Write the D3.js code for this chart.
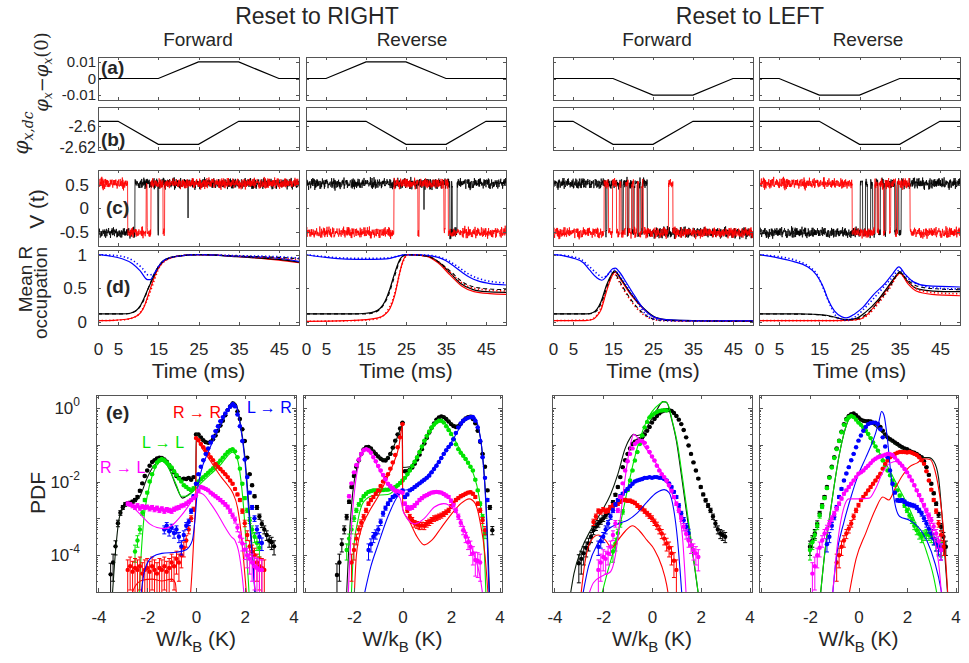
<!DOCTYPE html>
<html><head><meta charset="utf-8">
<script src="https://cdn.jsdelivr.net/npm/d3@7"></script>
<style>body{margin:0;background:#fff}svg{display:block}</style>
</head><body><svg id="chart" width="969" height="663"></svg>
<script>
// ---------------- DATA ----------------
const groupTitles = ["Reset to RIGHT", "Reset to LEFT"];
const columnTitles = ["Forward", "Reverse", "Forward", "Reverse"];
const timeTicks = [0, 5, 15, 25, 35, 45];
const wTicks = [-4, -2, 0, 2, 4];
const pdfTickLabels = [[1, "0"], [1e-2, "-2"], [1e-4, "-4"]];

// (a) phi_x - phi_x(0) protocol
const protoTimeA = [[0,15,25,35,45,50],[0,5,15,25,35,50],[0,15,25,35,45,50],[0,5,15,25,35,50]];
const protoPhiA = [[0,0,0.01,0.01,0,0],[0,0,0.01,0.01,0,0],[0,0,-0.01,-0.01,0,0],[0,0,-0.01,-0.01,0,0]];
// (b) phi_x,dc protocol
const protoTimeB = [[0,5,15,25,35,50],[0,15,25,35,45,50],[0,5,15,25,35,50],[0,15,25,35,45,50]];
const protoPhiB = [-2.595,-2.595,-2.6175,-2.6175,-2.595,-2.595];

// (c) voltage traces: initial state and switching times (ms)
const blackInit = ["L","H","H","L"];
const blackSwitch = [[9.2,14.9,15.1],[36.0,36.4,36.6,37.8],
  [13.2,13.5,17.3,17.6,18.6,19.0,19.8,20.3,21.2,21.5,22.0,22.4,23.6],
  [25.2,25.8,26.5,27.0,27.8,28.3,28.9,29.6,30.2,31.2,31.6,33.8,34.3,34.8,35.4]];
const blackSpikes = [[[22.4,-0.2]],[[29.5,0.0]],[],[]];
const redInit = ["H","L","L","H"];
const redSwitch = [[7.4,12.0,12.25,13.2,16.2,16.6],[22.0,28.0,28.3,34.5,34.8,35.6],
  [12.8,13.9,14.9,15.9,16.6,17.0,18.2,18.8,19.7,20.2,21.0,21.4,22.2,22.6,28.9,30.0],
  [23.2,28.8,29.4,29.8,31.0,31.4,32.5,32.8,34.0,34.5,37.6]];
const levelHigh = 0.53, levelLow = -0.52;
const vNoise = [0.12,-0.45,0.33,0.71,-0.18,-0.62,0.05,0.48,-0.27,0.9,-0.08,-0.55,0.37,-0.73,0.21,0.6,-0.34,0.02,-0.88,0.44,
  0.15,-0.21,0.67,-0.5,0.28,-0.12,0.81,-0.39,0.09,-0.66,0.53,-0.02,0.36,-0.95,0.24,0.58,-0.31,-0.07,0.75,-0.44,
  0.18,-0.59,0.41,0.03,-0.24,0.92,-0.71,0.14,-0.36,0.49,-0.15,0.64,-0.83,0.27,0.07,-0.48,0.56,-0.19,0.31,-0.6,
  0.85,-0.26,0.11,-0.4,0.69,-0.05,-0.77,0.38,0.2,-0.53,0.46,-0.11,0.62,-0.3,0.01,-0.68,0.52,0.25,-0.16,0.79,
  -0.42,0.08,-0.57,0.34,-0.23,0.97,-0.35,0.13,-0.64,0.43,0.06,-0.47,0.72,-0.09,0.29,-0.81,0.17,0.55,-0.28,0.4,-0.13];

// (d) mean R occupation [t, value]
const occBlue = [
 [[0,1.0],[3,0.98],[6,0.94],[8.5,0.87],[10.5,0.76],[12.3,0.63],[13,0.63],[14,0.72],[15,0.82],[16.5,0.92],[19,0.97],[25,1.0],[35,0.975],[42,0.96],[46,0.94],[50,0.9]],
 [[0,1.0],[5,0.96],[10,0.935],[15,0.93],[19,0.935],[21,0.945],[23,0.98],[25,1.0],[30,0.99],[33,0.96],[35,0.91],[37,0.83],[39,0.74],[41,0.66],[43,0.61],[46,0.57],[50,0.55]],
 [[0,1.0],[3,0.98],[5,0.95],[7.6,0.88],[9.2,0.77],[10.9,0.66],[12.2,0.62],[13.4,0.68],[14.9,0.79],[15.6,0.8],[16.5,0.75],[18.4,0.58],[20.5,0.38],[22.6,0.2],[25,0.08],[28,0.035],[35,0.02],[50,0.02]],
 [[0,1.0],[5,0.95],[8.5,0.9],[11.8,0.83],[14.3,0.7],[15.9,0.53],[17.2,0.33],[18.8,0.16],[20.5,0.08],[21.7,0.06],[23.8,0.12],[25.9,0.22],[28.4,0.4],[31.3,0.57],[33.3,0.72],[34.8,0.82],[36.2,0.72],[38.3,0.6],[41.6,0.54],[50,0.52]]];
const occBlueDot = [
 [[0,1.0],[4,0.99],[7,0.96],[9,0.9],[11,0.8],[12.5,0.7],[14,0.72],[15,0.82],[17,0.93],[20,0.98],[25,1.0],[35,0.985],[45,0.97],[50,0.95]],
 [[0,1.0],[5,0.97],[10,0.95],[15,0.945],[20,0.95],[23,0.98],[25,1.0],[30,0.995],[33,0.97],[35,0.93],[38,0.82],[41,0.7],[44,0.63],[50,0.58]],
 [[0,1.0],[4,0.98],[7,0.93],[9,0.83],[11,0.72],[12.5,0.66],[14,0.72],[15.2,0.77],[17,0.66],[19,0.48],[21,0.3],[23,0.13],[25,0.05],[30,0.015],[50,0.01]],
 [[0,1.0],[5,0.97],[9,0.92],[12,0.84],[14.5,0.7],[16,0.5],[17.5,0.28],[19,0.1],[20.5,0.04],[22,0.03],[24,0.08],[27,0.25],[30,0.45],[33,0.65],[35,0.77],[37,0.65],[40,0.55],[45,0.5],[50,0.49]]];
const occBlack = [
 [[0,0.12],[6,0.12],[8,0.13],[9.5,0.17],[10.5,0.24],[11.5,0.36],[12.5,0.5],[13.5,0.63],[14.5,0.76],[16,0.9],[18,0.96],[20,0.98],[25,1.0],[35,0.97],[45,0.93],[50,0.89]],
 [[0,0.12],[12,0.12],[15,0.13],[17,0.15],[18.5,0.2],[19.7,0.3],[20.9,0.48],[22.2,0.73],[23.4,0.92],[25,1.0],[29,0.99],[31,0.97],[33.4,0.88],[36,0.73],[38.5,0.58],[41.8,0.48],[45,0.45],[50,0.44]],
 [[0,0.12],[8.5,0.12],[10,0.14],[11,0.19],[12,0.3],[13.4,0.55],[14.6,0.7],[15.4,0.76],[17,0.64],[19.4,0.43],[22.7,0.2],[25.6,0.07],[29,0.03],[35,0.02],[50,0.015]],
 [[0,0.12],[10,0.12],[13.5,0.115],[16.8,0.1],[19,0.07],[21.7,0.035],[24,0.05],[26.6,0.15],[29.5,0.32],[32,0.52],[34.5,0.72],[35,0.75],[36.6,0.63],[39.1,0.5],[43.3,0.46],[50,0.45]]];
const occBlackDash = [
 [[0,0.12],[7,0.12],[9,0.15],[10.5,0.23],[11.5,0.34],[12.5,0.5],[13.5,0.65],[15,0.82],[17,0.93],[20,0.98],[25,1.0],[35,0.98],[45,0.96],[50,0.94]],
 [[0,0.12],[15,0.12],[17.5,0.15],[19,0.22],[20.5,0.38],[22,0.65],[23.4,0.9],[25,1.0],[30,0.98],[33,0.9],[36,0.76],[39,0.6],[42,0.52],[46,0.49],[50,0.48]],
 [[0,0.12],[9,0.12],[11,0.17],[12.5,0.35],[13.8,0.58],[15.2,0.74],[16.5,0.62],[18.5,0.42],[21,0.22],[24,0.07],[27,0.025],[35,0.015],[50,0.01]],
 [[0,0.12],[12,0.115],[16,0.1],[19,0.065],[22,0.03],[24,0.04],[27,0.13],[30,0.32],[32.5,0.52],[35,0.73],[37,0.62],[40,0.52],[45,0.49],[50,0.48]]];
const occRed = [
 [[0,0.02],[4,0.025],[7,0.04],[9,0.07],[10.5,0.13],[11.5,0.23],[12.5,0.4],[13.5,0.58],[14.5,0.74],[16,0.88],[18,0.95],[20,0.98],[25,1.0],[35,0.97],[45,0.92],[50,0.88]],
 [[0,0.01],[10,0.02],[15,0.035],[18,0.06],[19.5,0.1],[21,0.2],[22.2,0.4],[23.3,0.7],[24.2,0.9],[25.5,1.0],[30,0.98],[33,0.88],[36,0.7],[39,0.53],[42,0.45],[46,0.42],[50,0.41]],
 [[0,0.02],[8,0.02],[10,0.04],[11,0.09],[12,0.18],[13.2,0.42],[14.5,0.65],[15.5,0.74],[17,0.62],[19.4,0.41],[22.7,0.19],[25.6,0.06],[29,0.025],[35,0.015],[50,0.01]],
 [[0,0.02],[15,0.02],[22,0.025],[25,0.04],[27.1,0.12],[29.5,0.3],[32,0.5],[34.5,0.7],[35,0.73],[37,0.57],[39.1,0.46],[43,0.41],[50,0.39]]];
const occRedDot = [
 [[0,0.02],[6,0.03],[9,0.07],[10.5,0.14],[12,0.3],[13,0.45],[14,0.62],[15,0.78],[17,0.92],[20,0.98],[25,1.0],[35,0.98],[45,0.95],[50,0.93]],
 [[0,0.01],[12,0.02],[17,0.04],[19,0.08],[20.5,0.18],[21.8,0.35],[23,0.62],[24,0.85],[25.5,1.0],[30,0.98],[33,0.9],[36,0.74],[39,0.58],[42,0.5],[50,0.46]],
 [[0,0.02],[9,0.03],[11,0.1],[12.5,0.3],[13.8,0.55],[15.2,0.72],[16.5,0.6],[18.5,0.4],[21,0.2],[24,0.06],[27,0.02],[50,0.01]],
 [[0,0.02],[20,0.02],[24,0.03],[27,0.1],[30,0.3],[32.5,0.5],[35,0.72],[37,0.6],[40,0.47],[45,0.43],[50,0.42]]];

// (e) work PDFs: histogram bins of 0.1 K starting at W0, values as log10(PDF)
const binWidth = 0.1;
const kW0 = [-3.5, -2.7, -3.0, -2.0];
const kLog = [
 [-4.52,-4.2,-3.76,-3.13,-2.85,-2.7,-2.62,-2.6,-2.58,-2.55,-2.5,-2.42,-2.25,-2.05,-1.85,-1.7,-1.57,-1.47,-1.42,-1.37,-1.35,-1.36,-1.4,-1.46,-1.55,-1.65,-1.75,-1.85,-1.9,-1.95,-1.92,-1.93,-1.9,-1.95,-1.88,
  -0.72,-0.72,-0.8,-0.88,-0.93,-0.95,-0.92,-0.85,-0.75,-0.62,-0.48,-0.35,-0.2,-0.06,0.04,0.09,0.06,-0.1,-0.3,-0.58,-0.9,-1.35,-1.8,-2.1,-2.4,-2.7,-2.95,-3.15,-3.3,-3.45,-3.6,-3.65,-3.76],
 [-4.54,-4.2,-3.7,-3.3,-2.96,-2.55,-2.15,-1.85,-1.6,-1.42,-1.25,-1.13,-1.07,-1.06,-1.1,-1.18,-1.25,-1.32,-1.38,-1.42,-1.43,-1.36,-1.25,-1.08,-0.89,-0.72,-0.56,-0.4,
  -1.72,-1.72,-1.68,-1.62,-1.52,-1.4,-1.27,-1.12,-0.97,-0.82,-0.67,-0.54,-0.42,-0.32,-0.26,-0.23,-0.25,-0.3,-0.37,-0.44,-0.49,-0.52,-0.5,-0.43,-0.35,-0.29,-0.25,-0.24,-0.3,-0.42,-0.62,-0.92,-1.25,-1.6,-2.24,-2.7,-3.32],
 [-4.22,-4.1,-3.95,-3.8,-3.68,-3.5,-3.32,-3.22,-3.14,-3.07,-3.0,-2.92,-2.83,-2.7,-2.56,-2.36,-2.15,-1.88,-1.61,-1.42,-1.25,-1.1,-0.98,-0.92,-0.89,-0.85,-0.8,-0.72,-0.62,-0.52,
  -0.4,-0.3,-0.22,-0.15,-0.1,-0.07,-0.06,-0.06,-0.08,-0.14,-0.22,-0.32,-0.44,-0.6,-0.8,-1.02,-1.25,-1.48,-1.7,-1.92,-2.15,-2.35,-2.51,-2.65,-2.78,-2.95,-3.14,-3.3,-3.41,-3.45,-3.5],
 [-3.77,-3.6,-3.41,-3.15,-2.87,-2.65,-2.42,-2.15,-1.88,-1.6,-1.34,-1.1,-0.89,-0.65,-0.44,-0.3,-0.22,-0.17,-0.15,-0.2,
  -0.26,-0.32,-0.35,-0.36,-0.36,-0.37,-0.4,-0.42,-0.44,-0.52,-0.62,-0.72,-0.8,-0.85,-0.89,-0.94,-0.98,-1.03,-1.07,-1.1,-1.12,-1.16,-1.2,-1.22,-1.25,-1.3,-1.34,-1.45,-1.61,-1.82,-2.06,-2.32,-2.6,-2.9,-3.23,-3.5,-3.77]];
const rW0 = [-2.8, -2.1, -2.4, -0.9];
const rLog = [
 [-4.4,-4.3,-4.45,-4.35,-4.4,-4.3,-4.5,-4.4,-4.35,-4.45,-4.3,-4.4,-4.5,-4.35,-4.4,-4.3,-4.45,-4.35,-4.2,-4.3,-4.1,-4.2,-4.0,-3.8,-3.6,-3.3,-3.0,-2.75,
  -0.82,-0.88,-0.98,-1.07,-1.15,-1.25,-1.34,-1.42,-1.52,-1.6,-1.66,-1.73,-1.8,-1.88,-1.97,-2.06,-2.2,-2.35,-2.5,-2.8,-3.13,-3.45,-3.76,-3.9,-4.0,-4.2,-4.3,-4.35,-4.4],
 [-4.2,-3.86,-3.55,-3.3,-3.12,-2.96,-2.78,-2.6,-2.5,-2.42,-2.33,-2.24,-2.12,-2.0,-1.9,-1.8,-1.65,-1.48,-1.28,-1.07,-0.8,-0.44,
  -2.42,-2.78,-2.96,-3.05,-3.14,-3.17,-3.2,-3.19,-3.2,-3.14,-3.1,-3.05,-3.0,-2.98,-2.95,-2.92,-2.88,-2.83,-2.78,-2.68,-2.58,-2.5,-2.45,-2.4,-2.37,-2.33,-2.3,-2.29,-2.33,-2.42,-2.6,-2.78,-3.05,-3.32],
 [-3.1,-2.95,-2.8,-2.82,-2.76,-2.8,-2.78,-2.7,-2.65,-2.62,-2.6,-2.55,-2.5,-2.5,-2.52,-2.52,-2.55,-2.58,-2.65,-2.7,-2.74,-2.8,-2.87,-2.93,
  -3.0,-3.1,-3.19,-3.3,-3.41,-3.55,-3.68,-3.8,-3.95,-4.15,-4.4],
 [-4.2,-4.0,-3.77,-3.6,-3.41,-3.28,-3.14,-2.95,-2.78,-2.64,-2.5,-2.42,-2.33,-2.24,-2.15,-2.06,-1.97,-1.88,-1.79,-1.65,-1.52,-1.43,-1.34,-1.3,-1.25,-1.22,-1.2,-1.2,-1.2,
  -1.21,-1.2,-1.22,-1.25,-1.28,-1.34,-1.42,-1.52,-1.72,-1.97,-2.22,-2.5,-2.8,-3.14,-3.45,-3.77]];
const gW0 = [-2.5, -2.3, -1.6, -2.0];
const gLog = [
 [-3.9,-3.6,-3.3,-2.85,-2.5,-2.3,-2.0,-1.8,-1.6,-1.48,-1.42,-1.39,-1.42,-1.48,-1.55,-1.62,-1.72,-1.82,-1.92,-2.0,-2.1,-2.15,-2.2,-2.24,-2.18,
  -2.06,-2.0,-1.94,-1.88,-1.82,-1.76,-1.7,-1.64,-1.56,-1.5,-1.43,-1.35,-1.27,-1.2,-1.15,-1.12,-1.18,-1.34,-1.65,-2.06,-2.45,-2.78,-3.05,-3.3,-3.5,-3.67,-3.8],
 [-3.86,-3.55,-3.3,-3.0,-2.78,-2.62,-2.5,-2.4,-2.33,-2.28,-2.26,-2.24,-2.24,-2.25,-2.24,-2.23,-2.22,-2.22,-2.2,-2.18,-2.15,-2.1,-2.04,
  -1.97,-1.9,-1.8,-1.7,-1.58,-1.46,-1.34,-1.2,-1.05,-0.89,-0.76,-0.64,-0.53,-0.45,-0.39,-0.35,-0.35,-0.4,-0.5,-0.6,-0.71,-0.85,-0.99,-1.12,-1.22,-1.3,-1.39,-1.49,-1.6,-1.7,-1.95,-2.24,-2.6,-2.96,-3.41],
 [-3.9,-3.68,-3.4,-3.14,-2.82,-2.5,-2.23,-1.97,-1.7,-1.43,-1.2,-0.98,-0.75,-0.53,-0.38,-0.26,-0.2,-0.15,-0.11,-0.08,-0.07,-0.06,-0.07],
 [-3.86,-3.65,-3.45,-3.2,-2.92,-2.68,-2.45,-2.18,-1.9,-1.62,-1.36,-1.12,-0.9,-0.66,-0.46,-0.32,-0.25,-0.22,-0.25,-0.32,
  -0.4,-0.46,-0.53,-0.62,-0.71,-0.82,-0.94,-1.05,-1.16,-1.3,-1.43,-1.56,-1.7,-1.83,-1.97,-2.1,-2.24,-2.38,-2.51,-2.65,-2.78,-2.92,-3.05,-3.2,-3.32,-3.42,-3.5,-3.45,-3.41,-3.45,-3.5,-3.55,-3.68,-3.75,-3.8]];
const bW0 = [-1.3, -1.4, -2.2, -1.3];
const bLog = [
 [-3.3,-3.2,-3.35,-3.25,-3.4,-3.3,-3.5,-3.76,-3.45,-3.2,-3.1,-2.8,-2.4,
  -2.06,-1.8,-1.6,-1.42,-1.25,-1.1,-0.94,-0.78,-0.63,-0.5,-0.36,-0.25,-0.15,-0.06,0.03,0.08,0.04,-0.18,-0.5,-0.9,-1.4,-1.88,-2.3,-2.7,-3.0,-3.3,-3.5,-3.67],
 [-3.86,-3.7,-3.5,-3.42,-3.3,-3.1,-2.87,-2.72,-2.6,-2.5,-2.42,-2.38,-2.33,-2.28,
  -2.24,-2.42,-2.35,-2.24,-2.2,-2.15,-2.1,-2.05,-2.0,-1.95,-1.9,-1.84,-1.75,-1.66,-1.57,-1.47,-1.36,-1.25,-1.15,-1.06,-0.98,-0.85,-0.68,-0.53,-0.42,-0.35,-0.3,-0.27,-0.25,-0.26,-0.35,-0.53,-0.9,-1.34,-1.9,-2.5],
 [-3.77,-3.62,-3.5,-3.3,-3.14,-2.95,-2.78,-2.62,-2.5,-2.4,-2.33,-2.26,-2.2,-2.13,-2.06,-2.0,-1.97,-1.95,-1.93,-1.9,-1.9,-1.88,
  -1.9,-1.88,-1.88,-1.9,-1.9,-1.93,-1.97,-2.05,-2.15,-2.28,-2.42,-2.65,-2.87,-3.05,-3.23,-3.4],
 [-3.7,-3.5,-3.2,-2.96,-2.7,-2.42,-2.2,-1.97,-1.78,-1.61,-1.42,-1.25,-1.07,
  -0.89,-0.75,-0.62,-0.52,-0.44,-0.41,-0.4,-0.4,-0.44,-0.58,-0.8,-1.05,-1.34,-1.7,-2.06,-2.3,-2.51,-2.52,-2.51,-2.55,-2.6,-2.62,-2.64,-2.66,-2.7,-2.78,-2.87,-3.0,-3.14,-3.28,-3.41,-3.55,-3.68,-3.78,-3.86]];
const mW0 = [-2.8, -2.2, -2.2, -1.9];
const mLog = [
 [-2.6,-2.62,-2.66,-2.7,-2.65,-2.72,-2.68,-2.7,-2.69,-2.74,-2.7,-2.76,-2.72,-2.78,-2.74,-2.8,-2.76,-2.78,-2.8,-2.75,-2.72,-2.7,-2.66,-2.64,-2.6,-2.55,-2.5,-2.45,
  -2.38,-2.25,-2.15,-2.17,-2.2,-2.24,-2.3,-2.35,-2.4,-2.45,-2.5,-2.56,-2.62,-2.69,-2.8,-2.92,-3.04,-3.25,-3.49,-3.68,-3.85,-4.0,-4.1,-4.2,-4.3,-4.35,-4.4,-4.4],
 [-2.4,-2.05,-1.75,-1.55,-1.4,-1.25,-1.15,-1.12,-1.15,-1.22,-1.34,-1.45,-1.58,-1.7,-1.82,-1.94,-2.06,-2.12,-2.18,-2.24,-2.26,-2.28,
  -2.3,-2.6,-2.7,-2.72,-2.7,-2.65,-2.58,-2.5,-2.45,-2.4,-2.37,-2.33,-2.3,-2.29,-2.28,-2.29,-2.3,-2.34,-2.38,-2.42,-2.52,-2.64,-2.78,-2.95,-3.12,-3.32,-3.5,-3.65,-3.77,-3.95,-4.13,-4.15,-4.2],
 [-4.4,-4.2,-4.05,-4.1,-3.95,-3.77,-3.45,-3.14,-2.78,-2.42,-2.05,-1.7,-1.45,-1.25,-1.1,-0.98,-0.92,-0.89,-0.9,-0.95,-1.07,-1.2,
  -1.32,-1.43,-1.57,-1.7,-1.8,-1.88,-1.98,-2.1,-2.25,-2.42,-2.6,-2.78,-3.0,-3.23,-3.42,-3.6,-3.73,-3.86,-3.95,-4.05],
 [-4.5,-4.3,-4.0,-3.8,-3.6,-3.41,-3.28,-3.14,-3.0,-2.87,-2.74,-2.6,-2.46,-2.33,-2.24,-2.15,-2.06,-1.97,-1.88,
  -1.79,-1.75,-1.7,-1.63,-1.57,-1.5,-1.43,-1.38,-1.34,-1.32,-1.3,-1.27,-1.25,-1.26,-1.28,-1.35,-1.43,-1.5,-1.57,-1.66,-1.75,-1.86,-1.97,-2.1,-2.24,-2.37,-2.5,-2.64,-2.78,-2.92,-3.05,-3.22,-3.41,-3.62,-3.86]];

// (e) theory curves [W, log10(PDF)], null = gap
const thK = [
 [[-3.45,-5.3],[-3.3,-3.9],[-3.15,-3.0],[-3.0,-2.72],[-2.8,-2.62],[-2.5,-2.55],[-2.3,-2.4],[-2.0,-1.9],[-1.7,-1.55],[-1.4,-1.45],[-1.1,-1.65],[-0.8,-2.15],[-0.55,-2.45],[-0.3,-2.35],[-0.05,-2.2],[-0.01,-2.1],[0.01,-0.7],[0.2,-0.85],[0.45,-0.95],[0.7,-0.85],[1.0,-0.5],[1.3,-0.05],[1.5,0.17],[1.65,0.1],[1.8,-0.35],[2.0,-1.3],[2.15,-2.5],[2.3,-3.8],[2.45,-5.3]],
 [[-2.32,-5.3],[-2.2,-3.6],[-2.05,-2.3],[-1.85,-1.55],[-1.6,-1.15],[-1.4,-1.08],[-1.1,-1.22],[-0.8,-1.4],[-0.55,-1.3],[-0.3,-0.95],[-0.1,-0.6],[-0.01,-0.45],[0.01,-1.62],[0.3,-1.6],[0.6,-1.35],[0.9,-0.95],[1.2,-0.55],[1.5,-0.28],[1.7,-0.24],[2.0,-0.42],[2.3,-0.48],[2.6,-0.28],[2.85,-0.2],[3.05,-0.4],[3.25,-1.0],[3.4,-2.1],[3.52,-3.8],[3.6,-5.3]],
 [[-3.4,-5.3],[-3.2,-4.5],[-2.9,-3.85],[-2.5,-3.3],[-2.1,-2.85],[-1.7,-2.35],[-1.4,-1.8],[-1.1,-1.1],[-0.9,-0.82],[-0.75,-0.72],[-0.6,-0.75],[-0.4,-0.7],[-0.1,-0.4],[0.2,-0.05],[0.45,0.17],[0.6,0.15],[0.8,-0.3],[1.0,-0.9],[1.2,-1.8],[1.45,-3.0],[1.7,-4.1],[1.95,-5.3]],
 [[-1.6,-5.3],[-1.4,-4.0],[-1.2,-3.0],[-1.0,-2.1],[-0.8,-1.3],[-0.6,-0.7],[-0.4,-0.3],[-0.25,-0.18],[-0.05,-0.28],[0.3,-0.38],[0.6,-0.45],[0.9,-0.62],[1.2,-0.82],[1.5,-0.98],[1.8,-1.1],[2.1,-1.2],[2.4,-1.3],[2.7,-1.35],[2.9,-1.35],[3.1,-1.45],[3.3,-1.9],[3.45,-3.0],[3.6,-4.4],[3.7,-5.3]]];
const thR = [
 [[-2.75,-5.3],[-2.5,-4.85],[-2.2,-4.68],[-1.8,-4.65],[-1.4,-4.7],[-1.0,-4.65],[-0.85,-4.75],[-0.78,-5.3],null,[-0.25,-5.3],[-0.15,-4.3],[-0.05,-3.0],[-0.01,-2.5],[0.01,-0.85],[0.3,-1.15],[0.6,-1.45],[1.0,-1.85],[1.3,-2.1],[1.5,-2.3],[1.7,-2.7],[1.85,-3.4],[2.0,-4.5],[2.1,-5.3]],
 [[-2.0,-5.3],[-1.9,-4.0],[-1.7,-3.3],[-1.4,-2.85],[-1.0,-2.4],[-0.7,-2.0],[-0.4,-1.55],[-0.15,-1.05],[-0.01,-0.5],[0.01,-2.75],[0.3,-3.1],[0.6,-3.5],[0.9,-3.72],[1.2,-3.6],[1.6,-3.25],[2.0,-2.9],[2.4,-2.6],[2.75,-2.47],[3.0,-2.6],[3.2,-3.1],[3.4,-4.0],[3.55,-5.3]],
 [[-2.95,-5.3],[-2.75,-4.2],[-2.5,-3.6],[-2.2,-3.45],[-1.9,-3.6],[-1.65,-3.8],[-1.4,-3.6],[-1.1,-3.35],[-0.8,-3.2],[-0.5,-3.35],[-0.2,-3.6],[0.1,-3.85],[0.4,-4.3],[0.6,-4.8],[0.72,-5.3]],
 [[-0.45,-5.3],[-0.1,-4.1],[0.3,-3.4],[0.7,-2.75],[1.0,-2.42],[1.25,-2.5],[1.5,-2.2],[1.8,-1.85],[2.1,-1.6],[2.4,-1.5],[2.7,-1.38],[2.95,-1.4],[3.15,-1.7],[3.35,-2.4],[3.5,-3.3],[3.62,-4.4],[3.7,-5.3]]];
const thG = [
 [[-2.35,-5.3],[-2.25,-4.0],[-2.15,-3.1],[-2.0,-2.4],[-1.8,-1.85],[-1.6,-1.55],[-1.4,-1.45],[-1.2,-1.55],[-1.0,-1.8],[-0.8,-2.1],[-0.6,-2.4],[-0.4,-2.4],[-0.1,-2.25],[0.2,-2.05],[0.6,-1.8],[1.0,-1.55],[1.3,-1.3],[1.5,-1.2],[1.65,-1.3],[1.8,-1.75],[1.95,-2.7],[2.1,-4.2],[2.2,-5.3]],
 [[-2.12,-5.3],[-2.02,-3.9],[-1.85,-3.1],[-1.6,-2.55],[-1.2,-2.38],[-0.6,-2.35],[-0.2,-2.15],[0.2,-1.85],[0.6,-1.35],[1.0,-0.85],[1.3,-0.5],[1.6,-0.37],[1.8,-0.45],[2.1,-0.8],[2.5,-1.3],[2.9,-1.75],[3.15,-2.4],[3.35,-3.6],[3.45,-5.3]],
 [[-2.15,-5.3],[-1.8,-4.4],[-1.5,-3.7],[-1.25,-3.0],[-1.0,-2.2],[-0.75,-1.45],[-0.5,-0.85],[-0.25,-0.4],[0.0,-0.1],[0.3,0.1],[0.5,0.17],[0.65,0.1],[0.85,-0.4],[1.05,-1.0],[1.25,-1.9],[1.5,-3.1],[1.75,-4.3],[1.95,-5.3]],
 [[-1.6,-5.3],[-1.4,-4.0],[-1.2,-3.0],[-1.0,-2.1],[-0.8,-1.3],[-0.6,-0.7],[-0.4,-0.32],[-0.25,-0.25],[0.0,-0.42],[0.4,-0.75],[0.8,-1.15],[1.2,-1.6],[1.6,-2.1],[2.0,-2.6],[2.4,-3.2],[2.8,-3.9],[3.1,-4.6],[3.3,-5.3]]];
const thB = [
 [[-2.3,-5.3],[-2.1,-4.4],[-1.8,-4.05],[-1.4,-3.95],[-0.8,-3.92],[-0.4,-3.85],[-0.15,-3.6],[-0.05,-3.1],[0.05,-2.3],[0.2,-1.75],[0.5,-1.2],[0.8,-0.75],[1.1,-0.35],[1.35,0.02],[1.5,0.15],[1.65,0.05],[1.8,-0.4],[2.0,-1.4],[2.15,-2.7],[2.3,-4.0],[2.45,-5.3]],
 [[-1.65,-5.3],[-1.3,-4.3],[-1.0,-3.7],[-0.6,-2.95],[-0.2,-2.4],[0.0,-2.25],[0.4,-2.2],[0.8,-2.0],[1.2,-1.7],[1.6,-1.35],[2.0,-0.95],[2.4,-0.5],[2.7,-0.25],[2.9,-0.2],[3.1,-0.45],[3.3,-1.3],[3.45,-2.8],[3.58,-5.3]],
 [[-2.9,-5.3],[-2.6,-4.3],[-2.2,-3.65],[-1.8,-3.3],[-1.4,-3.15],[-1.0,-3.05],[-0.6,-2.85],[-0.2,-2.55],[0.2,-2.3],[0.5,-2.22],[0.7,-2.3],[0.9,-2.8],[1.05,-3.6],[1.15,-4.4],[1.25,-5.3]],
 [[-1.1,-5.3],[-0.9,-4.0],[-0.6,-3.1],[-0.3,-2.4],[0.0,-1.8],[0.3,-1.35],[0.5,-1.05],[0.7,-0.7],[0.85,-0.35],[0.95,-0.1],[1.05,-0.2],[1.2,-0.9],[1.35,-1.9],[1.5,-2.6],[1.7,-2.95],[2.1,-3.05],[2.6,-3.35],[3.0,-3.9],[3.3,-4.6],[3.5,-5.3]]];
const thM = [
 [[-2.5,-2.75],[-2.2,-2.95],[-1.9,-3.15],[-1.6,-3.25],[-1.3,-3.28],[-1.0,-3.2],[-0.7,-3.0],[-0.4,-2.75],[-0.1,-2.45],[0.1,-2.3],[0.3,-2.35],[0.6,-2.6],[0.9,-2.9],[1.2,-3.25],[1.45,-3.5],[1.6,-3.6],[1.75,-3.9],[1.9,-4.6],[2.0,-5.3]],
 [[-2.25,-5.3],[-2.1,-3.2],[-1.95,-2.1],[-1.75,-1.4],[-1.5,-1.15],[-1.25,-1.3],[-0.9,-1.75],[-0.5,-2.2],[-0.1,-2.45],[0.05,-2.85],[0.5,-3.15],[0.9,-3.0],[1.3,-2.7],[1.7,-2.6],[2.1,-2.75],[2.5,-3.2],[2.9,-3.9],[3.2,-4.6],[3.35,-5.3]],
 [[-2.7,-5.3],[-2.4,-4.75],[-2.0,-4.55],[-1.7,-4.45],[-1.5,-4.0],[-1.3,-3.0],[-1.1,-1.9],[-0.9,-1.05],[-0.75,-0.72],[-0.6,-0.8],[-0.3,-1.05],[0.0,-1.34],[0.3,-1.65],[0.55,-1.97],[0.8,-2.3],[1.0,-2.6],[1.15,-3.0],[1.25,-3.5],[1.35,-4.5],[1.42,-5.3]],
 [[-1.1,-5.3],[-0.85,-3.6],[-0.6,-2.7],[-0.4,-2.47],[0.0,-2.47],[0.45,-2.45],[0.7,-2.2],[1.0,-1.75],[1.3,-1.5],[1.6,-1.45],[2.0,-1.72],[2.4,-2.25],[2.8,-2.9],[3.1,-3.5],[3.3,-4.2],[3.45,-5.3]]];
const transLabels = [["R \u2192 R","R",173,418],["L \u2192 R","B",247,413],["L \u2192 L","G",142,448],["R \u2192 L","M",100,473]];

// ---------------- DRAWING ----------------
const svg = d3.select("#chart");
const FONT = "'Liberation Sans', Arial, Helvetica, sans-serif";
const TXT = "#262626", AX = "#555";
const COL = {K:"#000000", R:"#ff0000", G:"#00e400", B:"#0000ff", M:"#ff00ff"};
const colsTop = [[98,299],[306,506],[553,753],[759,960]];
const colsE = [[96,296],[303,502],[552,752],[759,958]];
const rowA=[57,100], rowB=[107,150], rowC=[170,246], rowD=[250,325], rowE=[395,592];
let clipN = 0;

function panel(x, y, o) {
  const [x0,x1] = x.range(), [yb,yt] = y.range();
  const id = "clip" + (clipN++);
  svg.append("clipPath").attr("id", id).append("rect").attr("x",x0).attr("y",yt).attr("width",x1-x0).attr("height",yb-yt);
  const plot = svg.append("g").attr("clip-path", `url(#${id})`);
  const g = svg.append("g");
  const tl = o.tl || 3;
  const fs = o.fs || 17;
  const st = s => { s.select(".domain").remove(); s.selectAll("line").attr("stroke",AX).attr("shape-rendering","crispEdges");
    s.attr("font-family",FONT).attr("font-size",fs); s.selectAll("text").attr("fill",TXT); };
  g.append("g").attr("transform",`translate(0,${yb})`).call(d3.axisBottom(x).tickValues(o.xt).tickSize(-tl).tickPadding(o.xpad||18).tickFormat(o.xlab ? (o.xfmt || (d=>String(d))) : "")).call(st);
  g.append("g").attr("transform",`translate(0,${yt})`).call(d3.axisTop(x).tickValues(o.xt).tickSize(-tl).tickFormat("")).call(st);
  g.append("g").attr("transform",`translate(${x0},0)`).call(d3.axisLeft(y).tickValues(o.yt).tickSize(-tl).tickPadding(o.ypad||4).tickFormat(o.ylab ? (d=>String(d)) : "")).call(st);
  g.append("g").attr("transform",`translate(${x1},0)`).call(d3.axisRight(y).tickValues(o.yt).tickSize(-tl).tickFormat("")).call(st);
  g.append("rect").attr("x",x0).attr("y",yt).attr("width",x1-x0).attr("height",yb-yt).attr("fill","none").attr("stroke",AX).attr("shape-rendering","crispEdges");
  return {plot, g};
}
function txt(x, y, s, size, opt) {
  opt = opt || {};
  return svg.append("text").attr("x",x).attr("y",y).attr("font-family",opt.family||FONT).attr("font-size",size)
    .attr("font-weight",opt.bold?"bold":"normal").attr("text-anchor",opt.anchor||"middle").attr("fill",opt.fill||TXT).text(s);
}
function vtxt(x, y, s, size) {
  return svg.append("text").attr("transform",`translate(${x},${y}) rotate(-90)`).attr("font-family",FONT).attr("font-size",size)
    .attr("text-anchor","middle").attr("fill",TXT).text(s);
}

function stepTrace(init, sw, spikes, off) {
  const pts = [];
  for (let i = 0; i <= 1000; i++) {
    const t = i * 0.05;
    let s = init === "H";
    for (const v of sw) if (t >= v) s = !s;
    let v = s ? levelHigh : levelLow;
    for (const sp of spikes) if (Math.abs(t - sp[0]) < 0.04) v = sp[1];
    v += 0.15 * (0.6 * vNoise[(i * 7 + off) % 101] + 0.45 * vNoise[(i * 5 + 3 * off) % 97]);
    pts.push([t, v]);
  }
  return pts;
}

for (let i = 0; i < 4; i++) {
  const xt = d3.scaleLinear().domain([0,50]).range(colsTop[i]);
  // (a)
  const ya = d3.scaleLinear().domain([-0.013,0.013]).range([rowA[1],rowA[0]]);
  const pa = panel(xt, ya, {xt:timeTicks, yt:[-0.01,0,0.01], ylab:i===0, ypad:2, fs:15});
  pa.plot.append("path").datum(d3.zip(protoTimeA[i], protoPhiA[i])).attr("d", d3.line().x(d=>xt(d[0])).y(d=>ya(d[1])))
    .attr("fill","none").attr("stroke","#000").attr("stroke-width",1.2);
  // (b)
  const yb = d3.scaleLinear().domain([-2.623,-2.581]).range([rowB[1],rowB[0]]);
  const pb = panel(xt, yb, {xt:timeTicks, yt:[-2.62,-2.6], ylab:i===0, ypad:2, fs:16});
  pb.plot.append("path").datum(d3.zip(protoTimeB[i], protoPhiB)).attr("d", d3.line().x(d=>xt(d[0])).y(d=>yb(d[1])))
    .attr("fill","none").attr("stroke","#000").attr("stroke-width",1.2);
  // (c)
  const yc = d3.scaleLinear().domain([-0.8,0.82]).range([rowC[1],rowC[0]]);
  const pc = panel(xt, yc, {xt:timeTicks, yt:[-0.5,0,0.5], ylab:i===0, ypad:9});
  const lc = d3.line().x(d=>xt(d[0])).y(d=>yc(d[1]));
  pc.plot.append("path").datum(stepTrace(blackInit[i], blackSwitch[i], blackSpikes[i], 11+i*17)).attr("d", lc)
    .attr("fill","none").attr("stroke","#000").attr("stroke-width",0.8);
  pc.plot.append("path").datum(stepTrace(redInit[i], redSwitch[i], [], 53+i*29)).attr("d", lc)
    .attr("fill","none").attr("stroke","#ff0000").attr("stroke-width",0.8);
  // (d)
  const yd = d3.scaleLinear().domain([-0.045,1.07]).range([rowD[1],rowD[0]]);
  const pd = panel(xt, yd, {xt:timeTicks, yt:[0,0.5,1], ylab:i===0, xlab:true, ypad:11, xpad:18});
  const ld = d3.line().x(d=>xt(d[0])).y(d=>yd(d[1])).curve(d3.curveMonotoneX);
  const dl = (data, c, dash, w) => pd.plot.append("path").datum(data).attr("d", ld).attr("fill","none").attr("stroke",c)
    .attr("stroke-width",w).attr("stroke-dasharray",dash);
  dl(occRed[i], "#ff0000", null, 1.2);
  dl(occBlack[i], "#000", null, 1.2);
  dl(occBlue[i], "#0000ff", null, 1.2);
  dl(occRedDot[i], "#ff0000", "1.3,2.4", 1.6);
  dl(occBlackDash[i], "#000", "4,3", 1.1);
  dl(occBlueDot[i], "#0000ff", "1.3,2.4", 1.6);
  txt((colsTop[i][0]+colsTop[i][1])/2, 378, "Time (ms)", 21);
}

// (e) PDFs
const ye = d3.scaleLog().domain([1e-5, Math.pow(10,0.35)]).range([rowE[1], rowE[0]]);
const seriesSets = [["K",kW0,kLog,thK],["G",gW0,gLog,thG],["R",rW0,rLog,thR],["B",bW0,bLog,thB],["M",mW0,mLog,thM]];
for (let i = 0; i < 4; i++) {
  const xe = d3.scaleLinear().domain([-4.1,4.1]).range(colsE[i]);
  const pe = panel(xe, ye, {xt:wTicks, yt:[1e-5,1e-4,1e-3,1e-2,1e-1,1], tl:4, xlab:true, xpad:19,
    xfmt: (i % 2 === 1) ? (d => d === -4 ? "" : String(d)) : (d => String(d))});
  // minor log ticks
  const [x0,x1] = colsE[i];
  for (let dcd = -5; dcd <= 0; dcd++) for (let k = 2; k <= 9; k++) {
    const v = k * Math.pow(10, dcd);
    if (v > ye.domain()[1]) continue;
    const yy = Math.round(ye(v)) + 0.5;
    pe.g.append("line").attr("x1",x0).attr("x2",x0+2).attr("y1",yy).attr("y2",yy).attr("stroke",AX);
    pe.g.append("line").attr("x1",x1-2).attr("x2",x1).attr("y1",yy).attr("y2",yy).attr("stroke",AX);
  }
  if (i === 0) {
    for (const [v, ex] of pdfTickLabels) {
      const t = svg.append("text").attr("x", x0 - 16).attr("y", ye(v) + 6).attr("text-anchor","end")
        .attr("font-family",FONT).attr("font-size",17).attr("fill",TXT);
      t.append("tspan").text("10");
      t.append("tspan").attr("dy",-8).attr("font-size",12).text(ex);
    }
  }
  const line = d3.line().defined(d => d != null).x(d => xe(d[0])).y(d => ye(Math.pow(10, d[1]))).curve(d3.curveMonotoneX);
  for (const [c, w0s, logs, th] of seriesSets) {
    const pts = logs[i].map((v, j) => [Math.round((w0s[i] + j * binWidth) * 100) / 100, Math.pow(10, v)]);
    const gg = pe.plot.append("g");
    for (const [w, p] of pts) {
      const rel = Math.sqrt(3e-5 / p);
      const hi = p * (1 + rel), lo = Math.max(p * (1 - rel), 1e-6);
      const xx = xe(w);
      gg.append("line").attr("x1",xx).attr("x2",xx).attr("y1",ye(hi)).attr("y2",ye(Math.max(lo,1e-5))).attr("stroke",COL[c]).attr("stroke-width",1);
      gg.append("line").attr("x1",xx-2).attr("x2",xx+2).attr("y1",ye(hi)).attr("y2",ye(hi)).attr("stroke",COL[c]).attr("stroke-width",1);
      if (lo > 1e-5) gg.append("line").attr("x1",xx-2).attr("x2",xx+2).attr("y1",ye(lo)).attr("y2",ye(lo)).attr("stroke",COL[c]).attr("stroke-width",1);
    }
    gg.selectAll("circle").data(pts).join("circle").attr("cx", d => xe(d[0])).attr("cy", d => ye(d[1])).attr("r", 2.2).attr("fill", COL[c]);
    pe.plot.append("path").datum(th[i]).attr("d", line).attr("fill","none").attr("stroke", c === "K" ? "#0a1a0a" : COL[c]).attr("stroke-width",1.1);
  }
  const W = svg.append("text").attr("x",(x0+x1)/2).attr("y",646).attr("text-anchor","middle").attr("font-family",FONT).attr("font-size",21).attr("fill",TXT);
  W.append("tspan").text("W/k");
  W.append("tspan").attr("dy",6).attr("font-size",15).text("B");
  W.append("tspan").attr("dy",-6).text(" (K)");
}
for (const [s, c, x, y] of transLabels) txt(x, y, s, 16, {anchor:"start", fill:COL[c]});

// Titles
txt(317, 23.5, groupTitles[0], 23);
txt(750, 23.5, groupTitles[1], 23);
const titleX = [198, 412, 657, 868];
columnTitles.forEach((s, i) => txt(titleX[i], 46, s, 19));

// Panel labels
txt(101, 74, "(a)", 19, {bold:true, anchor:"start"});
txt(101, 146, "(b)", 19, {bold:true, anchor:"start"});
txt(106, 214, "(c)", 19, {bold:true, anchor:"start"});
txt(106, 293, "(d)", 19, {bold:true, anchor:"start"});
txt(106, 419, "(e)", 19, {bold:true, anchor:"start"});

// Y labels
const l1 = svg.append("text").attr("transform","translate(48,72) rotate(-90)").attr("text-anchor","middle")
  .attr("font-family","'DejaVu Serif', serif").attr("font-style","italic").attr("font-size",18).attr("fill",TXT);
l1.append("tspan").text("\u03c6"); l1.append("tspan").attr("dy",4).attr("font-size",12).text("x");
l1.append("tspan").attr("dy",-4).attr("font-style","normal").text("\u2212");
l1.append("tspan").text("\u03c6"); l1.append("tspan").attr("dy",4).attr("font-size",12).text("x");
l1.append("tspan").attr("dy",-4).attr("font-style","normal").text("(0)");
const l2 = svg.append("text").attr("transform","translate(28,133) rotate(-90)").attr("text-anchor","middle")
  .attr("font-family","'DejaVu Serif', serif").attr("font-style","italic").attr("font-size",20).attr("fill",TXT);
l2.append("tspan").text("\u03c6"); l2.append("tspan").attr("dy",5).attr("font-size",14).text("x,dc");
vtxt(44, 209, "V (t)", 21);
vtxt(32, 279, "Mean R", 19);
vtxt(47, 293, "occupation", 19);
vtxt(45, 493, "PDF", 21);
</script></body></html>
